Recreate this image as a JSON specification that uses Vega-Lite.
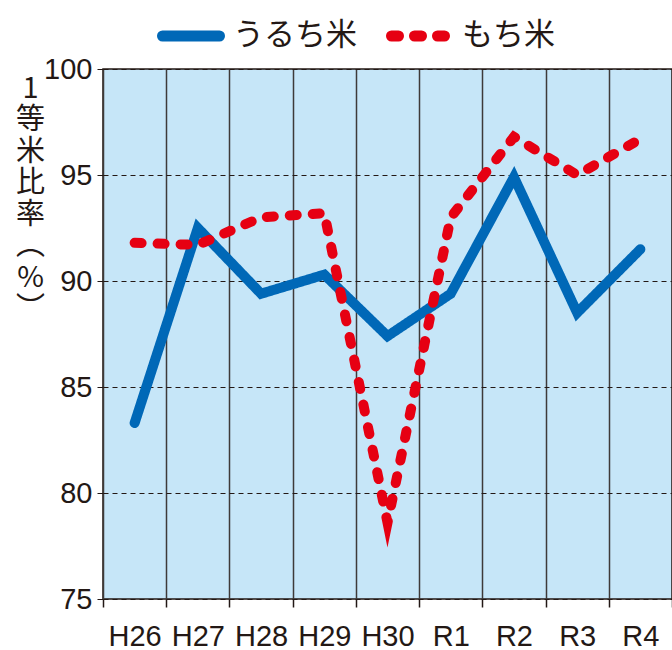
{
  "$schema": "https://vega.github.io/schema/vega-lite/v6.json",
  "autosize": {"type": "none"},
  "padding": {"left": 103, "top": 69, "right": 0, "bottom": 51},
  "width": 569,
  "height": 530,
  "background": "white",
  "config": {
    "view": {"fill": "#c6e6f8", "stroke": "#231815", "strokeWidth": 1.5},
    "axis": {"labelColor": "#231815", "labelFont": "Liberation Sans", "labelFontSize": 29, "tickColor": "#231815", "domain": false}
  },
  "data": {
    "values": [
      {"year": "H26", "type": "うるち米", "value": 83.3},
      {"year": "H27", "type": "うるち米", "value": 92.5},
      {"year": "H28", "type": "うるち米", "value": 89.4},
      {"year": "H29", "type": "うるち米", "value": 90.3},
      {"year": "H30", "type": "うるち米", "value": 87.4},
      {"year": "R1", "type": "うるち米", "value": 89.4},
      {"year": "R2", "type": "うるち米", "value": 94.9},
      {"year": "R3", "type": "うるち米", "value": 88.5},
      {"year": "R4", "type": "うるち米", "value": 91.5},
      {"year": "H26", "type": "もち米", "value": 91.8},
      {"year": "H27", "type": "もち米", "value": 91.7},
      {"year": "H28", "type": "もち米", "value": 93.0},
      {"year": "H29", "type": "もち米", "value": 93.2},
      {"year": "H30", "type": "もち米", "value": 78.6},
      {"year": "R1", "type": "もち米", "value": 93.0},
      {"year": "R2", "type": "もち米", "value": 96.8},
      {"year": "R3", "type": "もち米", "value": 95.0},
      {"year": "R4", "type": "もち米", "value": 96.7}
    ]
  },
  "mark": {"type": "line", "strokeWidth": 10, "strokeCap": "round", "strokeJoin": "miter", "strokeMiterLimit": 10, "clip": true},
  "encoding": {
    "x": {
      "field": "year", "type": "ordinal", "sort": null,
      "scale": {"type": "band", "paddingInner": 0, "paddingOuter": 0},
      "axis": {"title": null, "labelAngle": 0, "tickBand": "extent", "grid": true, "gridColor": "#3e3a39", "gridWidth": 1.5, "tickSize": 8, "tickWidth": 1.5, "labelPadding": 15}
    },
    "y": {
      "field": "value", "type": "quantitative",
      "scale": {"domain": [75, 100], "nice": false, "zero": false},
      "axis": {
        "values": [75, 80, 85, 90, 95, 100],
        "grid": true, "gridColor": "#231815", "gridWidth": 1, "gridDash": [5, 4],
        "tickSize": 6, "tickWidth": 1, "labelPadding": 5,
        "title": ["1", "等", "米", "比", "率", "︵", "%", "︶"],
        "titleAngle": 0, "titleFont": "Noto Sans CJK JP", "titleFontSize": 29, "titleFontWeight": "normal",
        "titleColor": "#231815", "titleLineHeight": 31.5, "titleBaseline": "top", "titleAlign": "center",
        "titleX": -73, "titleY": 5
      }
    },
    "color": {
      "field": "type", "type": "nominal",
      "scale": {"domain": ["うるち米", "もち米"], "range": ["#0068b7", "#e60012"]},
      "legend": {
        "title": null, "orient": "none", "legendX": 54, "legendY": -67, "direction": "horizontal",
        "symbolType": "stroke", "symbolSize": 3249, "symbolStrokeWidth": 11,
        "labelFont": "Noto Sans CJK JP", "labelFontSize": 31, "labelColor": "#231815",
        "labelOffset": 8, "columnPadding": 12,
        "encode": {"symbols": {"update": {"strokeCap": {"value": "round"}}}}
      }
    },
    "strokeDash": {
      "field": "type", "type": "nominal",
      "scale": {"domain": ["うるち米", "もち米"], "range": [[1, 0], [7, 16]]}
    }
  }
}
